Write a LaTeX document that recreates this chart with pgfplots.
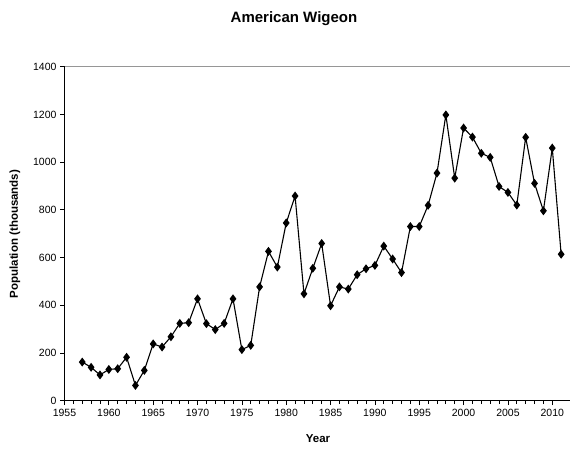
\documentclass[border=0pt]{standalone}
\usepackage{pgfplots}
\pgfplotsset{compat=1.18}
\usepackage{fontspec}
\setmainfont{Liberation Sans}
\begin{document}
\begin{tikzpicture}
\useasboundingbox (0,0) rectangle (570bp,453bp);
\begin{axis}[
  at={(64.5bp,52.3bp)}, anchor=south west,
  scale only axis, width=505.5bp, height=334bp,
  xmin=1955, xmax=2012, ymin=0, ymax=1400,
  xtick={1955,1960,...,2010}, minor x tick num=4,
  ytick={0,200,...,1400},
  axis x line*=bottom, axis y line*=left,
  axis line style={-, black, line width=0.9bp},
  tick align=outside, major tick length=4.5bp, minor tick length=3.5bp,
  tick style={black, line width=0.7bp},
  /pgf/number format/assume math mode=true,
  /pgf/number format/1000 sep={},
  ticklabel style={font=\fontsize{10.5bp}{12bp}\selectfont},
  clip=false,
]
\addplot[black, line width=1.1bp, mark=diamond*, mark size=3.6bp, mark options={solid, fill=black}] coordinates {
(1957,162)(1958,140)(1959,108)(1960,131)(1961,134)(1962,182)(1963,64)(1964,127)
(1965,238)(1966,225)(1967,268)(1968,324)(1969,327)(1970,427)(1971,323)(1972,298)
(1973,324)(1974,427)(1975,214)(1976,232)(1977,477)(1978,626)(1979,560)(1980,745)
(1981,858)(1982,448)(1983,555)(1984,659)(1985,398)(1986,477)(1987,468)(1988,528)
(1989,553)(1990,567)(1991,648)(1992,594)(1993,537)(1994,730)(1995,730)(1996,819)
(1997,954)(1998,1198)(1999,933)(2000,1143)(2001,1105)(2002,1037)(2003,1020)(2004,898)
(2005,873)(2006,820)(2007,1104)(2008,911)(2009,796)(2010,1059)(2011,614)
};
\draw[color={rgb,255:red,150;green,150;blue,150}, line width=1.2bp] (rel axis cs:0,1) -- (rel axis cs:1,1);
\end{axis}
\node[font=\bfseries\fontsize{15bp}{18bp}\selectfont] at (294bp,434bp) {American Wigeon};
\node[font=\bfseries\fontsize{11.5bp}{14bp}\selectfont] at (318bp,14bp) {Year};
\node[font=\bfseries\fontsize{11.5bp}{14bp}\selectfont, rotate=90] at (15bp,219bp) {Population (thousands)};
\end{tikzpicture}
\end{document}
